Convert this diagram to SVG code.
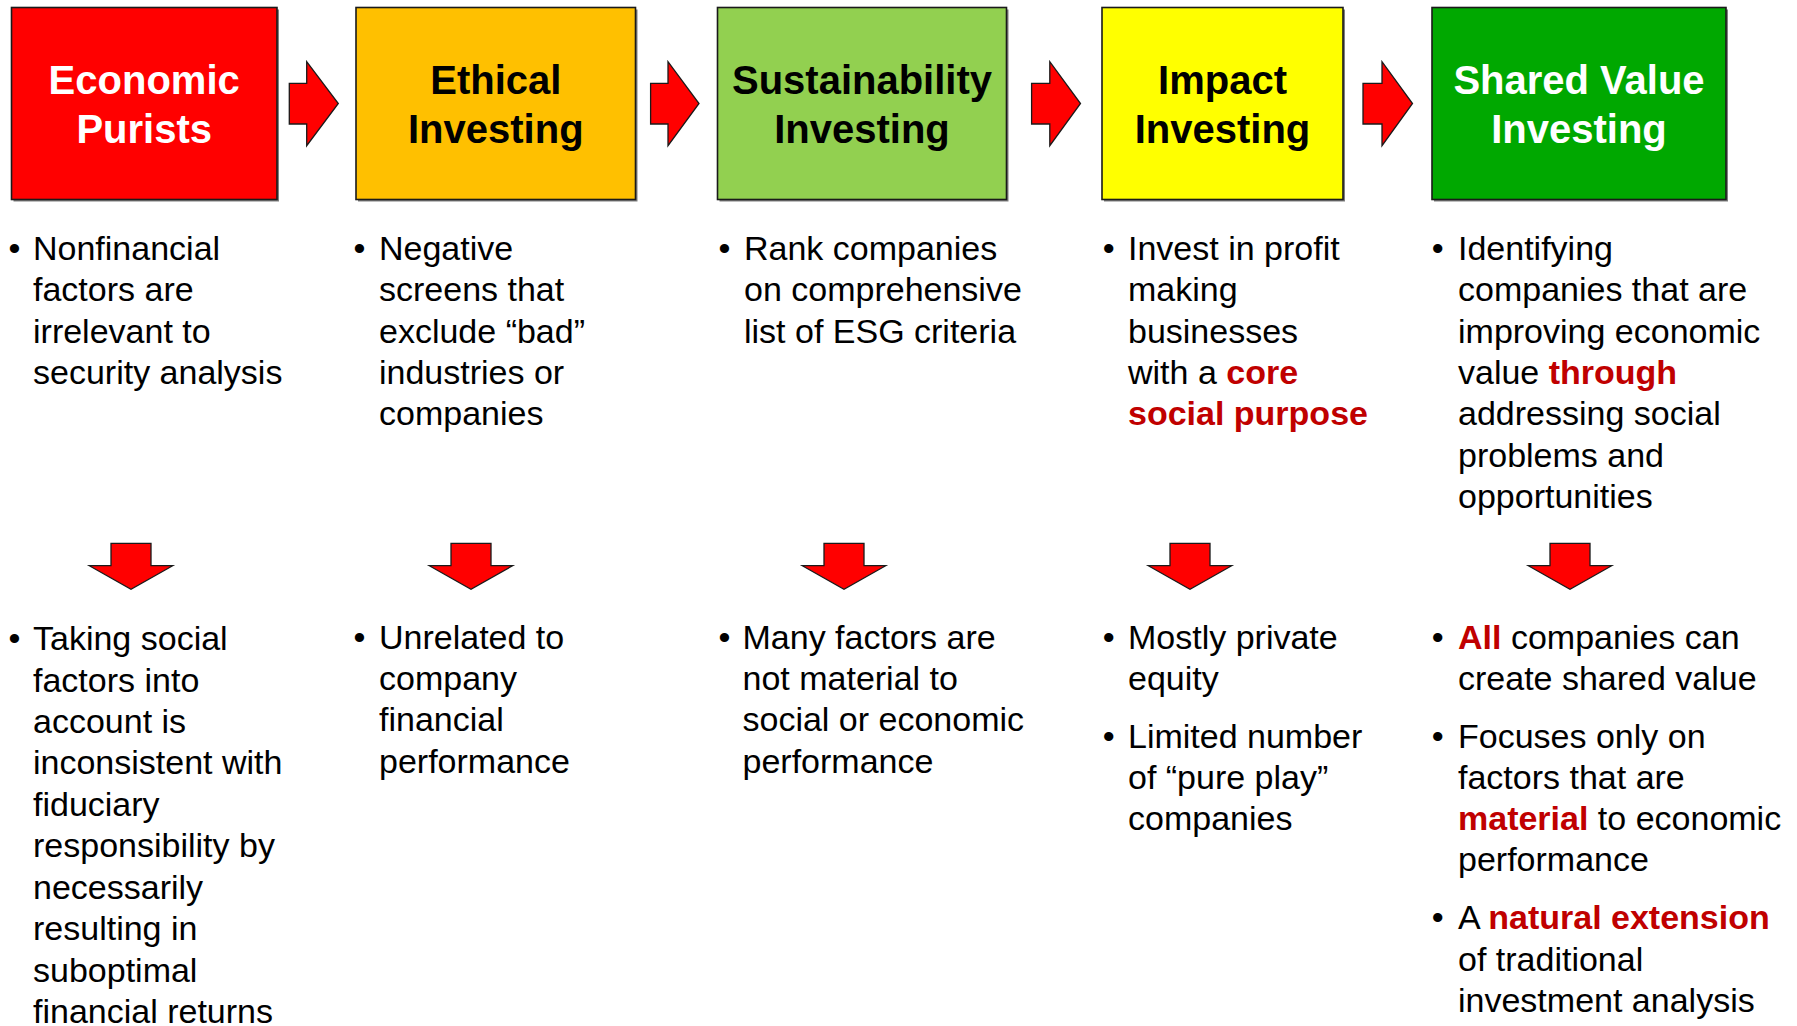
<svg xmlns="http://www.w3.org/2000/svg" width="1797" height="1026" viewBox="0 0 1797 1026">
<style>
.box{stroke:#1a1a1a;stroke-width:1.6}
.shadow{fill:#7f7f7f}
.arr{fill:#ff0000;stroke:#1a1a1a;stroke-width:1.3;stroke-linejoin:miter}
.title{font-family:"Liberation Sans",Arial,sans-serif;font-weight:bold;font-size:40px;text-anchor:middle}
.w{fill:#ffffff}
.k{fill:#000000}
.t{font-family:"Liberation Sans",Arial,sans-serif;font-size:34px;fill:#000000}
.b{text-anchor:middle}
.r{fill:#c00000;font-weight:bold}
</style>
<defs>
<path id="rarr" d="M0,20 H17.4 V-21.8 L49,0 L17.4,42.2 V20.5 H0 Z"/>
</defs>
<g id="connectors">
<path class="arr" d="M289.3,83.3 H306.7 V61.7 L338.3,103.5 L306.7,145.7 V124 H289.3 Z"/>
<path class="arr" d="M650.6,83.3 H668 V61.7 L699,103.5 L668,145.7 V124 H650.6 Z"/>
<path class="arr" d="M1031.6,83.3 H1049.8 V61.7 L1080.5,103.5 L1049.8,145.7 V124 H1031.6 Z"/>
<path class="arr" d="M1363,83.3 H1382 V61.7 L1412.5,103.5 L1382,145.7 V124 H1363 Z"/>
<path class="arr" d="M111,543.3 H151 V565.7 H172.7 L131,589.3 L89.3,565.7 H111 Z"/>
<path class="arr" d="M451,543.3 H491 V565.7 H512.7 L471,589.3 L429.3,565.7 H451 Z"/>
<path class="arr" d="M824,543.3 H864 V565.7 H885.7 L844,589.3 L802.3,565.7 H824 Z"/>
<path class="arr" d="M1170,543.3 H1210 V565.7 H1231.7 L1190,589.3 L1148.3,565.7 H1170 Z"/>
<path class="arr" d="M1550,543.3 H1590 V565.7 H1611.7 L1570,589.3 L1528.3,565.7 H1550 Z"/>
</g>
<g id="node-economic-purists">
<rect class="shadow" x="13.5" y="9.5" width="265.5" height="192"/>
<rect class="box" x="11.5" y="7.5" width="265.5" height="192" fill="#ff0000"/>
<text class="title w" x="144.2" y="94.3">Economic</text>
<text class="title w" x="144.2" y="142.7">Purists</text>
</g>
<g id="node-ethical-investing">
<rect class="shadow" x="358" y="9.5" width="279.5" height="192"/>
<rect class="box" x="356" y="7.5" width="279.5" height="192" fill="#ffc000"/>
<text class="title k" x="495.8" y="94.3">Ethical</text>
<text class="title k" x="495.8" y="142.7">Investing</text>
</g>
<g id="node-sustainability-investing">
<rect class="shadow" x="719.5" y="9.5" width="289" height="192"/>
<rect class="box" x="717.5" y="7.5" width="289" height="192" fill="#92d050"/>
<text class="title k" x="862" y="94.3">Sustainability</text>
<text class="title k" x="862" y="142.7">Investing</text>
</g>
<g id="node-impact-investing">
<rect class="shadow" x="1104" y="9.5" width="241" height="192"/>
<rect class="box" x="1102" y="7.5" width="241" height="192" fill="#ffff00"/>
<text class="title k" x="1222.5" y="94.3">Impact</text>
<text class="title k" x="1222.5" y="142.7">Investing</text>
</g>
<g id="node-shared-value-investing">
<rect class="shadow" x="1434" y="9.5" width="294" height="192"/>
<rect class="box" x="1432" y="7.5" width="294" height="192" fill="#00a800"/>
<text class="title w" x="1579" y="94.3">Shared Value</text>
<text class="title w" x="1579" y="142.7">Investing</text>
</g>
<g id="text-economic-top" class="t">
<text class="b" x="14.4" y="260">•</text>
<text x="33" y="260">Nonfinancial</text>
<text x="33" y="301.3">factors are</text>
<text x="33" y="342.6">irrelevant to</text>
<text x="33" y="383.9">security analysis</text>
</g>
<g id="text-ethical-top" class="t">
<text class="b" x="359.4" y="260">•</text>
<text x="379" y="260">Negative</text>
<text x="379" y="301.3">screens that</text>
<text x="379" y="342.6">exclude “bad”</text>
<text x="379" y="383.9">industries or</text>
<text x="379" y="425.2">companies</text>
</g>
<g id="text-sustainability-top" class="t">
<text class="b" x="724.5" y="260">•</text>
<text x="744" y="260">Rank companies</text>
<text x="744" y="301.3">on comprehensive</text>
<text x="744" y="342.6">list of ESG criteria</text>
</g>
<g id="text-impact-top" class="t">
<text class="b" x="1108.8" y="260">•</text>
<text x="1128" y="260">Invest in profit</text>
<text x="1128" y="301.3">making</text>
<text x="1128" y="342.6">businesses</text>
<text x="1128" y="383.9">with a <tspan class="r">core</tspan></text>
<text x="1128" y="425.2" class="r">social purpose</text>
</g>
<g id="text-shared-top" class="t">
<text class="b" x="1437.8" y="260">•</text>
<text x="1458" y="260">Identifying</text>
<text x="1458" y="301.3">companies that are</text>
<text x="1458" y="342.6">improving economic</text>
<text x="1458" y="383.9">value <tspan class="r">through</tspan></text>
<text x="1458" y="425.2">addressing social</text>
<text x="1458" y="466.5">problems and</text>
<text x="1458" y="507.8">opportunities</text>
</g>
<g id="text-economic-bottom" class="t">
<text class="b" x="14.4" y="650">•</text>
<text x="33" y="650">Taking social</text>
<text x="33" y="691.5">factors into</text>
<text x="33" y="733">account is</text>
<text x="33" y="774.4">inconsistent with</text>
<text x="33" y="815.9">fiduciary</text>
<text x="33" y="857.4">responsibility by</text>
<text x="33" y="898.9">necessarily</text>
<text x="33" y="940.4">resulting in</text>
<text x="33" y="981.8">suboptimal</text>
<text x="33" y="1023.3">financial returns</text>
</g>
<g id="text-ethical-bottom" class="t">
<text class="b" x="359.4" y="648.5">•</text>
<text x="379" y="648.5">Unrelated to</text>
<text x="379" y="690">company</text>
<text x="379" y="731.3">financial</text>
<text x="379" y="772.6">performance</text>
</g>
<g id="text-sustainability-bottom" class="t">
<text class="b" x="724.5" y="648.5">•</text>
<text x="742.5" y="648.5">Many factors are</text>
<text x="742.5" y="690">not material to</text>
<text x="742.5" y="731.3">social or economic</text>
<text x="742.5" y="772.6">performance</text>
</g>
<g id="text-impact-bottom" class="t">
<text class="b" x="1108.8" y="648.5">•</text>
<text x="1128" y="648.5">Mostly private</text>
<text x="1128" y="690">equity</text>
<text class="b" x="1108.8" y="748.3">•</text>
<text x="1128" y="748.3">Limited number</text>
<text x="1128" y="789.3">of “pure play”</text>
<text x="1128" y="830.3">companies</text>
</g>
<g id="text-shared-bottom" class="t">
<text class="b" x="1437.8" y="648.5">•</text>
<text x="1458" y="648.5"><tspan class="r">All</tspan> companies can</text>
<text x="1458" y="690">create shared value</text>
<text class="b" x="1437.8" y="747.5">•</text>
<text x="1458" y="747.5">Focuses only on</text>
<text x="1458" y="788.5">factors that are</text>
<text x="1458" y="829.8"><tspan class="r">material</tspan> to economic</text>
<text x="1458" y="871">performance</text>
<text class="b" x="1437.8" y="929.3">•</text>
<text x="1458" y="929.3">A <tspan class="r">natural extension</tspan></text>
<text x="1458" y="970.5">of traditional</text>
<text x="1458" y="1011.7">investment analysis</text>
</g>
</svg>
